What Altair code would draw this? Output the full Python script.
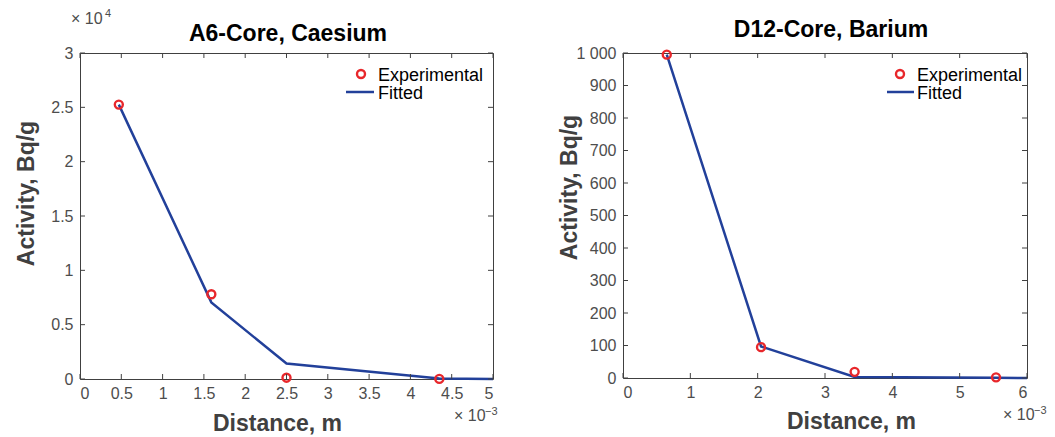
import altair as alt
import pandas as pd

# A6-Core, Caesium: distance in metres, activity in Bq/g
cs_exp_distance = [0.47e-3, 1.59e-3, 2.50e-3, 4.35e-3]
cs_exp_activity = [25250, 7800, 120, 10]
cs_fit_distance = [0.47e-3, 1.59e-3, 2.50e-3, 4.35e-3, 5.0e-3]
cs_fit_activity = [25250, 7050, 1420, 40, 0]
cs_x_ticks = [0, 0.5e-3, 1.0e-3, 1.5e-3, 2.0e-3, 2.5e-3, 3.0e-3, 3.5e-3, 4.0e-3, 4.5e-3, 5.0e-3]
cs_y_ticks = [0, 5000, 10000, 15000, 20000, 25000, 30000]

# D12-Core, Barium
ba_exp_distance = [0.65e-3, 2.05e-3, 3.44e-3, 5.54e-3]
ba_exp_activity = [995, 95, 19, 2]
ba_fit_distance = [0.65e-3, 2.05e-3, 3.44e-3, 5.54e-3, 6.0e-3]
ba_fit_activity = [995, 97, 3, 0.5, 0]
ba_x_ticks = [0, 1e-3, 2e-3, 3e-3, 4e-3, 5e-3, 6e-3]
ba_y_ticks = [0, 100, 200, 300, 400, 500, 600, 700, 800, 900, 1000]

FONT = "Liberation Sans"
FRAME = "#404040"
LABEL = "#4d4d4d"
RED = "#e8272b"
BLUE = "#22409a"
TICK = 5


def panel(title, exp_d, exp_a, fit_d, fit_a, x_ticks, y_ticks, x_fmt, y_fmt,
          w, h, title_pos, ytitle, xtitle, legend, x_mult, y_mult=None):
    exp_df = pd.DataFrame({"d": exp_d, "a": exp_a})
    fit_df = pd.DataFrame({"d": fit_d, "a": fit_a})
    xt = pd.DataFrame({"d": x_ticks})
    yt = pd.DataFrame({"a": y_ticks})
    one = pd.DataFrame({"k": [0]})

    x = alt.X("d:Q", scale=alt.Scale(domain=[x_ticks[0], x_ticks[-1]], nice=False),
              axis=alt.Axis(values=x_ticks, labelExpr=x_fmt, title="Distance, m",
                            titleX=xtitle[0], titleY=xtitle[1],
                            titleBaseline="alphabetic", titleAlign="center"))
    y = alt.Y("a:Q", scale=alt.Scale(domain=[y_ticks[0], y_ticks[-1]], nice=False),
              axis=alt.Axis(values=y_ticks, labelExpr=y_fmt, title="Activity, Bq/g",
                            titleX=ytitle[0], titleY=ytitle[1],
                            titleBaseline="alphabetic", titleAlign="center"))

    line = alt.Chart(fit_df).mark_line(color=BLUE, strokeWidth=2.5).encode(x=x, y=y)
    pts = alt.Chart(exp_df).mark_point(filled=False, color=RED, size=64,
                                       strokeWidth=2.4, opacity=1).encode(x=x, y=y)

    # inward ticks on all four sides
    t_bottom = alt.Chart(xt).mark_rule(color=FRAME).encode(
        x=x, y=alt.value(h), y2=alt.value(h - TICK))
    t_top = alt.Chart(xt).mark_rule(color=FRAME).encode(
        x=x, y=alt.value(0), y2=alt.value(TICK))
    t_left = alt.Chart(yt).mark_rule(color=FRAME).encode(
        y=y, x=alt.value(0), x2=alt.value(TICK))
    t_right = alt.Chart(yt).mark_rule(color=FRAME).encode(
        y=y, x=alt.value(w), x2=alt.value(w - TICK))

    def txt(s, px, py, size, color=LABEL, weight="normal", align="left"):
        return alt.Chart(one).mark_text(align=align, baseline="alphabetic", font=FONT,
                                        fontSize=size, fontWeight=weight,
                                        color=color).encode(
            x=alt.value(px), y=alt.value(py), text=alt.value(s))

    # legend in the upper right
    pt_x, ln_x0, ln_x1, tx = legend
    leg_pt = alt.Chart(one).mark_point(filled=False, color=RED, size=64,
                                       strokeWidth=2.4, opacity=1).encode(
        x=alt.value(pt_x), y=alt.value(21))
    leg_ln = alt.Chart(one).mark_rule(color=BLUE, strokeWidth=2.5).encode(
        x=alt.value(ln_x0), x2=alt.value(ln_x1), y=alt.value(39))
    leg_t1 = txt("Experimental", tx, 27.5, 18, color="black")
    leg_t2 = txt("Fitted", tx, 46, 18, color="black")

    head = txt(title, title_pos[0], title_pos[1], 23, color="black",
               weight="bold", align="center")

    layers = [line, pts, t_bottom, t_top, t_left, t_right,
              leg_pt, leg_ln, leg_t1, leg_t2, head,
              txt("× 10", x_mult[0], h + 42, 16), txt("−3", x_mult[1], h + 36, 11)]
    if y_mult:
        layers += [txt("× 10", y_mult[0], -29, 16), txt(y_mult[2], y_mult[1], -36, 11)]

    return alt.layer(*layers).properties(width=w, height=h)


left = panel("A6-Core, Caesium", cs_exp_distance, cs_exp_activity,
             cs_fit_distance, cs_fit_activity, cs_x_ticks, cs_y_ticks,
             "format(datum.value * 1000, '~g')", "format(datum.value / 10000, '~g')",
             413, 326, (208, -12), (-47, 140), (197, 51),
             (281, 266, 294, 298), (374, 405), (-9, 25, "4"))
right = panel("D12-Core, Barium", ba_exp_distance, ba_exp_activity,
              ba_fit_distance, ba_fit_activity, ba_x_ticks, ba_y_ticks,
              "format(datum.value * 1000, '~g')",
              "replace(format(datum.value, ','), ',', ' ')",
              404, 325, (208, -16), (-47, 134), (228, 50),
              (277, 264, 291, 294), (380, 411))

chart = alt.hconcat(left, right, spacing=58).configure(
    padding={"left": 14, "top": 7, "right": 0, "bottom": 0}
).configure_view(stroke=FRAME, strokeWidth=1).configure_axis(
    grid=False, domain=False, ticks=False, labelFont=FONT, labelFontSize=16,
    labelColor=LABEL, labelPadding=7, titleFont=FONT, titleFontSize=23,
    titleFontWeight="bold", titleColor=FRAME,
).configure_axisX(labelPadding=6)

chart.save("out.html", embed_options={"renderer": "svg", "actions": False})
